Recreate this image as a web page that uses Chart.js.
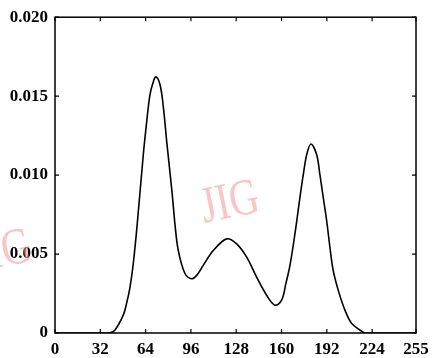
<!DOCTYPE html>
<html>
<head>
<meta charset="utf-8">
<script src="https://cdn.jsdelivr.net/npm/chart.js@4.4.1/dist/chart.umd.min.js"></script>
<style>
  html, body { margin: 0; padding: 0; background: #fff; }
  #wrap { width: 438px; height: 358px; position: relative; }
</style>
</head>
<body>
<div id="wrap"><canvas id="c"></canvas></div>
<script>
// Gray level (x) and probability density (y)
const grayLevels = [0, 30, 38.8, 42.4, 48.2, 50.6, 53.0, 55.3, 58.1, 62.4, 64.8, 67.1, 69.4, 71.3, 74.2, 76.5, 78.9, 82.8, 84.7, 87.1, 91.8, 96.5, 100.1, 104.7, 111.8, 121.3, 128.3, 135.4, 142.4, 149.5, 155.4, 160.1, 163.1, 166.0, 169.5, 173.0, 175.4, 177.8, 180.8, 184.8, 187.1, 189.5, 191.9, 194.2, 196.5, 200.1, 204.8, 209.5, 215.4, 218.9, 235, 255];
const density = [0, 0, 0.00002, 0.00019, 0.00113, 0.00189, 0.00291, 0.0044, 0.00692, 0.01132, 0.0134, 0.0151, 0.0159, 0.01623, 0.01572, 0.01434, 0.01214, 0.0088, 0.00692, 0.00522, 0.00377, 0.00344, 0.00365, 0.00428, 0.00522, 0.00596, 0.00564, 0.0048, 0.00354, 0.00239, 0.00176, 0.00208, 0.00314, 0.00430, 0.00629, 0.00857, 0.01004, 0.0113, 0.01197, 0.0113, 0.01004, 0.00857, 0.00711, 0.00543, 0.00396, 0.0027, 0.00145, 0.00061, 0.00019, 0, 0, 0];
const xTickValues = [0, 32, 64, 96, 128, 160, 192, 224, 255];
const yTickValues = [0, 0.005, 0.010, 0.015, 0.020];
const watermark = "JIG";

const points = grayLevels.map((g, i) => ({ x: g, y: density[i] }));
const FONT = { family: "'Liberation Serif', 'DejaVu Serif', serif", size: 17, weight: 'bold' };

const framePlugin = {
  id: 'frame',
  beforeDatasetsDraw(chart) {
    const { ctx } = chart;
    ctx.save();
    ctx.fillStyle = 'rgba(245,150,150,0.55)';
    ctx.font = "52px 'Liberation Serif', serif";
    ctx.textBaseline = 'alphabetic';
    ctx.textAlign = 'left';
    [[204, 223], [-24, 272]].forEach(([x, y]) => {
      ctx.save();
      ctx.translate(x, y);
      ctx.rotate(-0.2);
      ctx.scale(0.78, 1);
      ctx.fillText(watermark, 0, 0);
      ctx.restore();
    });
    ctx.restore();
  },
  afterDatasetsDraw(chart) {
    const { ctx, chartArea: a, scales } = chart;
    ctx.save();
    ctx.strokeStyle = '#000';
    ctx.lineWidth = 1.5;
    ctx.strokeRect(a.left, a.top, a.right - a.left, a.bottom - a.top);
    const t = 4;
    ctx.lineWidth = 1.2;
    ctx.beginPath();
    xTickValues.forEach(v => {
      const px = scales.x.getPixelForValue(v);
      ctx.moveTo(px, a.bottom); ctx.lineTo(px, a.bottom - t);
      ctx.moveTo(px, a.top); ctx.lineTo(px, a.top + t);
    });
    yTickValues.forEach(v => {
      const py = scales.y.getPixelForValue(v);
      ctx.moveTo(a.left, py); ctx.lineTo(a.left + t, py);
      ctx.moveTo(a.right, py); ctx.lineTo(a.right - t, py);
    });
    ctx.stroke();
    ctx.restore();
  }
};

new Chart(document.getElementById('c'), {
  type: 'line',
  data: {
    datasets: [{
      data: points,
      borderColor: '#000',
      borderWidth: 1.6,
      pointRadius: 0,
      fill: false,
      tension: 0.35
    }]
  },
  options: {
    responsive: true,
    maintainAspectRatio: false,
    animation: false,
    layout: { padding: { left: 0, top: 15, right: 22, bottom: 0 } },
    plugins: { legend: { display: false }, tooltip: { enabled: false } },
    scales: {
      x: {
        type: 'linear',
        min: 0, max: 255,
        afterBuildTicks(s) { s.ticks = xTickValues.map(v => ({ value: v })); },
        afterFit(s) { s.height = 25; },
        grid: { display: false, drawTicks: false },
        border: { display: false },
        ticks: { color: '#000', font: FONT, padding: 6, maxRotation: 0, autoSkip: false,
                 callback: v => String(v) }
      },
      y: {
        min: 0, max: 0.02,
        afterBuildTicks(s) { s.ticks = yTickValues.map(v => ({ value: v })); },
        afterFit(s) { s.width = 55; },
        grid: { display: false, drawTicks: false },
        border: { display: false },
        ticks: { color: '#000', font: FONT, padding: 7,
                 callback: v => v === 0 ? '0' : v.toFixed(3) }
      }
    }
  },
  plugins: [framePlugin]
});
</script>
</body>
</html>
